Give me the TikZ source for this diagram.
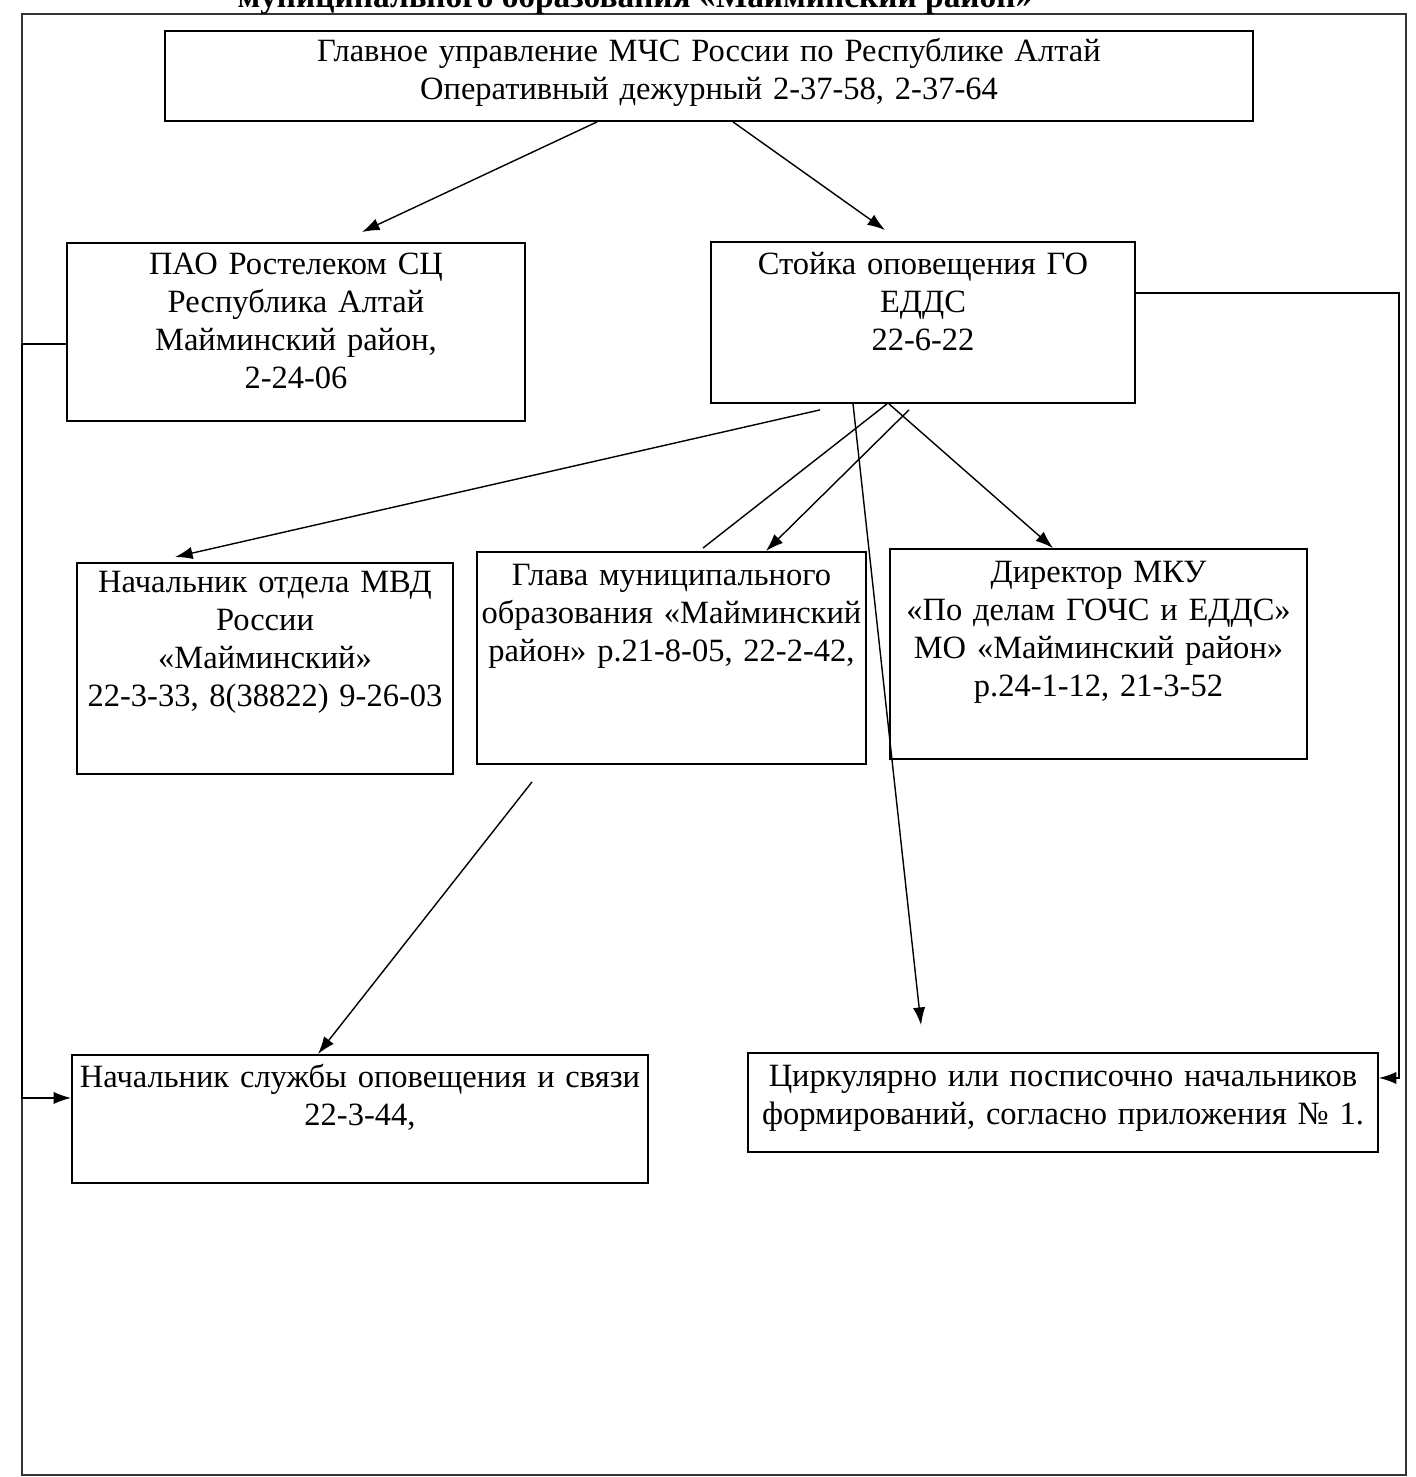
\documentclass[tikz,border=0pt]{standalone}
\usepackage{fontspec}
\setmainfont{Liberation Serif}
\usetikzlibrary{arrows.meta,calc}

\tikzset{
  box/.style={draw,line width=1.1pt,align=center,anchor=north,inner sep=0pt,font=\fontsize{18.5}{21.5}\selectfont},
  arr/.style={-{Latex[length=10pt,width=7pt]},line width=0.8pt},
  ln/.style={line width=0.8pt}
}

\begin{document}
\begin{tikzpicture}[x=0.02cm,y=-0.02cm]
		\clip (0,0) rectangle (1416,1477);
		% page frame and heading (cut off at the top)
		\draw[line width=0.6pt,black!80] (22,14) rectangle (1406,1475);
		\node[anchor=base,font=\fontsize{19}{22}\bfseries\selectfont] (title) at (635,8) {муниципального образования «Майминский район»};
		% boxes
		\node[box,text width=21.76cm,text height=0.62cm,text depth=1.18cm] (gu) at (709,30) {Главное управление МЧС России по Республике Алтай\\Оперативный дежурный 2-37-58, 2-37-64};
		\node[box,text width=9.16cm,text height=0.64cm,text depth=2.92cm] (rost) at (296,242) {ПАО Ростелеком СЦ\\Республика Алтай\\Майминский район,\\2-24-06};
		\node[box,text width=8.48cm,text height=0.66cm,text depth=2.56cm] (stoika) at (923,241) {Стойка оповещения ГО\\ЕДДС\\22-6-22};
		\node[box,text width=7.52cm,text height=0.6cm,text depth=3.62cm] (mvd) at (265,562) {Начальник отдела МВД\\России\\«Майминский»\\22-3-33, 8(38822) 9-26-03};
		\node[box,text width=7.78cm,text height=0.68cm,text depth=3.56cm] (glava) at (671.5,551) {Глава муниципального\\образования «Майминский\\район» р.21-8-05, 22-2-42,};
		\node[box,text width=8.34cm,text height=0.68cm,text depth=3.52cm] (dir) at (1098.5,548) {Директор МКУ\\«По делам ГОЧС и ЕДДС»\\МО «Майминский район»\\р.24-1-12, 21-3-52};
		\node[box,text width=11.52cm,text height=0.66cm,text depth=1.9cm] (sluzhba) at (360,1054) {Начальник службы оповещения и связи\\22-3-44,};
		\node[box,text width=12.6cm,text height=0.68cm,text depth=1.3cm] (tsirk) at (1063,1052) {Циркулярно или посписочно начальников\\формирований, согласно приложения №~1.};
		% rails along the frame
		\coordinate (leftrail) at (22,0);
		\coordinate (rightrail) at (1399,0);
		\coordinate (tsirkin) at ([xshift=-2.84cm,yshift=0.54cm]tsirk.north);
		% connectors
		\draw[arr] ([xshift=-2.24cm]gu.south) -- ([xshift=1.32cm,yshift=0.2cm]rost.north);
		\draw[arr] ([xshift=0.48cm]gu.south) -- ([xshift=-0.76cm,yshift=0.22cm]stoika.north);
		\draw[arr] ([xshift=-2.06cm,yshift=-0.12cm]stoika.south) -- ([xshift=-1.8cm,yshift=0.1cm]mvd.north);
		\draw[ln] ([xshift=-0.72cm]stoika.south) -- ([xshift=0.63cm,yshift=0.06cm]glava.north);
		\draw[arr] ([xshift=-0.28cm,yshift=-0.12cm]stoika.south) -- ([xshift=1.89cm]glava.north);
		\draw[arr] ([xshift=-0.68cm]stoika.south) -- ([xshift=-0.91cm]dir.north);
		\draw[arr] ([xshift=-1.4cm]stoika.south) -- (tsirkin);
		\draw[arr] ([xshift=-2.79cm,yshift=-0.34cm]glava.south) -- ([xshift=-0.84cm]sluzhba.north);
		\draw[arr] ([yshift=-0.24cm]rost.west) coordinate (r1) -- (r1 -| leftrail) |- ([yshift=0.42cm]sluzhba.west);
		\draw[arr] ([yshift=0.59cm]stoika.east) coordinate (s1) -- (s1 -| rightrail) |- ([yshift=0.49cm]tsirk.east);
	\end{tikzpicture}
\end{document}
